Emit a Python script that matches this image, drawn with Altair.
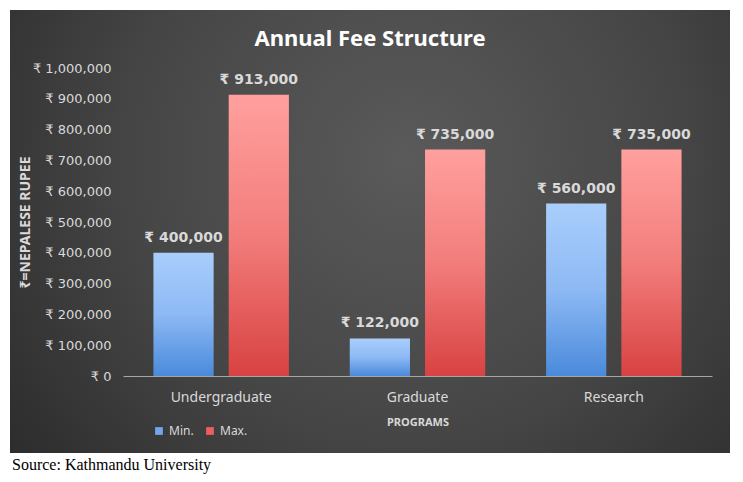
import altair as alt
import pandas as pd

# values
programs = ["Undergraduate", "Graduate", "Research"]
min_fee = [400000, 122000, 560000]
max_fee = [913000, 735000, 735000]
series = ["Min.", "Max."]

df = pd.DataFrame({
    "Program": programs * 2,
    "Series": ["Min."] * 3 + ["Max."] * 3,
    "Fee": min_fee + max_fee,
})

W, H = 589, 308
label_color = "#d9d9d9"
tick_font = "DejaVu Sans"
title_font = "Noto Sans"

blue_grad = alt.LinearGradient(
    gradient="linear", x1=0, y1=0, x2=0, y2=1,
    stops=[alt.GradientStop(color="#a9cefc", offset=0),
           alt.GradientStop(color="#8db9f4", offset=0.5),
           alt.GradientStop(color="#4a8adb", offset=1)])
red_grad = alt.LinearGradient(
    gradient="linear", x1=0, y1=0, x2=0, y2=1,
    stops=[alt.GradientStop(color="#ffa09e", offset=0),
           alt.GradientStop(color="#f27d7b", offset=0.5),
           alt.GradientStop(color="#d84242", offset=1)])
panel_grad = alt.RadialGradient(
    gradient="radial", x1=0.55, y1=0.4, r1=0, x2=0.55, y2=0.4, r2=0.75,
    stops=[alt.GradientStop(color="#5a5a5a", offset=0),
           alt.GradientStop(color="#464646", offset=0.5),
           alt.GradientStop(color="#272727", offset=1)])

x_enc = alt.X("Program:N", sort=programs,
              scale=alt.Scale(paddingInner=0.31, paddingOuter=0.155),
              axis=alt.Axis(title="PROGRAMS", labelAngle=0, labelFontSize=14,
                            labelFont=title_font, labelColor=label_color,
                            labelPadding=14, ticks=False, domainColor="#a6a6a6",
                            titleFontSize=11, titleFontWeight="bold",
                            titleColor=label_color, titleFont=title_font,
                            titlePadding=12, zindex=1))
y_enc = alt.Y("Fee:Q", scale=alt.Scale(domain=[0, 1000000]),
              axis=alt.Axis(title="₹=NEPALESE RUPEE", values=list(range(0, 1000001, 100000)),
                            labelExpr="'₹ ' + format(datum.value, ',')",
                            labelFont=tick_font, labelFontSize=13,
                            labelColor=label_color, labelPadding=12,
                            ticks=False, domain=False, grid=False,
                            titleFont=title_font, titleFontSize=14,
                            titleFontWeight="bold", titleColor=label_color,
                            titlePadding=0, zindex=1))
off_enc = alt.XOffset("Series:N", sort=series,
                      scale=alt.Scale(domain=series, paddingInner=0.2, paddingOuter=0))

base = alt.Chart(df).encode(x=x_enc, y=y_enc, xOffset=off_enc)

panel = alt.Chart(pd.DataFrame({"a": [0]})).mark_rect(fill=panel_grad).encode(
    x=alt.value(-113), x2=alt.value(607), y=alt.value(-58), y2=alt.value(385))

title = alt.Chart(pd.DataFrame({"t": ["Annual Fee Structure"]})).mark_text(
    align="center", baseline="middle", font=title_font, fontSize=22,
    fontWeight="bold", color="white"
).encode(x=alt.value(247), y=alt.value(-29), text="t:N")

source = alt.Chart(pd.DataFrame({"t": ["Source: Kathmandu University"]})).mark_text(
    align="left", baseline="middle", font="Liberation Serif", fontSize=16, color="black"
).encode(x=alt.value(-111), y=alt.value(397), text="t:N")

min_bars = base.transform_filter("datum.Series == 'Min.'").mark_bar(fill=blue_grad)
max_bars = base.transform_filter("datum.Series == 'Max.'").mark_bar(fill=red_grad)

labels = base.transform_calculate(
    lab="'₹ ' + format(datum.Fee, ',')"
).mark_text(baseline="bottom", dy=-8, font=tick_font, fontSize=14,
            fontWeight="bold", color=label_color).encode(text="lab:N")

legend_layer = base.mark_square(opacity=0).encode(
    color=alt.Color("Series:N", sort=series,
                    scale=alt.Scale(domain=series, range=["#6fa6ec", "#ec5f5d"]),
                    legend=alt.Legend(title=None, orient="none", legendX=30, legendY=357,
                                      direction="horizontal", symbolType="square",
                                      symbolOpacity=1, symbolSize=60, symbolStrokeWidth=0,
                                      labelColor=label_color, labelFont=title_font,
                                      labelFontSize=12, columnPadding=10)))

chart = alt.layer(panel, title, source, min_bars, max_bars, labels, legend_layer).properties(
    width=W, height=H,
    autosize=alt.AutoSizeParams(type="none"),
    padding={"left": 115, "top": 60, "right": 23, "bottom": 98},
    background="white",
).configure_view(stroke=None)

chart.save("out.html", embed_options={"renderer": "svg", "actions": False})
